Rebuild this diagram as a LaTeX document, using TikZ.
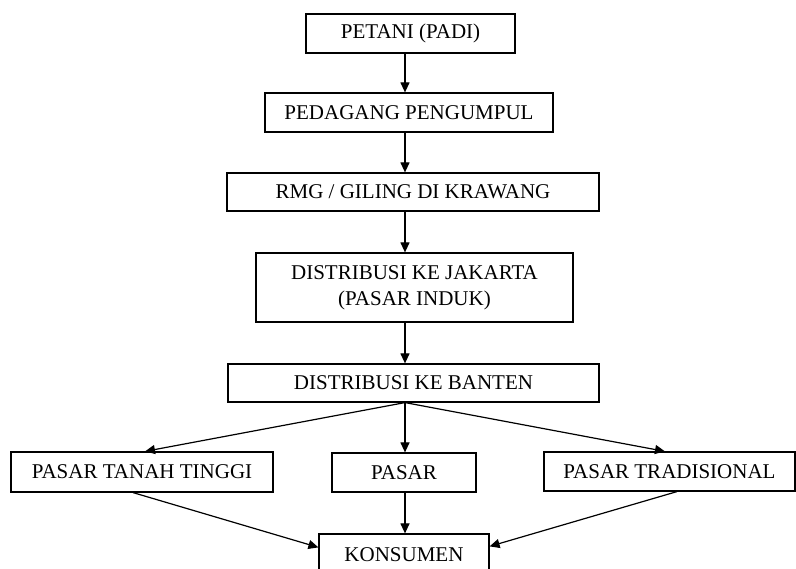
\documentclass[tikz,border=0pt]{standalone}
\usepackage{fontspec}
\setmainfont{Liberation Serif}
\usetikzlibrary{arrows.meta}
\begin{document}
\begin{tikzpicture}[x=1pt,y=1pt,
  box/.style={draw, line width=1.2pt, inner sep=0pt, align=center,
    font=\fontsize{21}{26}\selectfont},
  flow/.style={line width=1.2pt, -{Triangle[length=10pt,width=9pt]}}]
\useasboundingbox (0,0) rectangle (796,569);
\clip (0,0) rectangle (796,569);
\fill[white] (0,0) rectangle (796,569);

% chain of boxes
\node[box, minimum width=209pt, minimum height=39pt] (petani) at (410.5,535.5) {PETANI (PADI)};
\node[box, minimum width=288pt, minimum height=39pt] (pedagang) at (409,456.5) {PEDAGANG PENGUMPUL};
\node[box, minimum width=372pt, minimum height=38pt] (rmg) at (413,377) {RMG / GILING DI KRAWANG};
\node[box, minimum width=317pt, minimum height=69pt] (jakarta) at (414.5,281.5) {DISTRIBUSI KE JAKARTA\\(PASAR INDUK)};
\node[box, minimum width=371pt, minimum height=38pt] (banten) at (413.5,186) {DISTRIBUSI KE BANTEN};

% markets
\node[box, minimum width=262pt, minimum height=40pt] (ptt) at (142,97) {PASAR TANAH TINGGI};
\node[box, minimum width=144pt, minimum height=39pt] (pasar) at (404,96.5) {PASAR};
\node[box, minimum width=251pt, minimum height=39pt] (ptrad) at (669.5,97.5) {PASAR TRADISIONAL};

% consumer (runs past the lower edge)
\node[box, minimum width=170pt, minimum height=42pt] (konsumen) at (404,14) {KONSUMEN};

% vertical axis of the main flow
\coordinate (col) at (405,0);

\draw[flow] (petani.south -| col) -- (pedagang.north -| col);
\draw[flow] (pedagang.south -| col) -- (rmg.north -| col);
\draw[flow] (rmg.south -| col) -- (jakarta.north -| col);
\draw[flow] (jakarta.south -| col) -- (banten.north -| col);

\draw[flow] (banten.south -| col) -- ([xshift=3pt]ptt.north);
\draw[flow] (banten.south -| col) -- (pasar.north -| col);
\draw[flow] (banten.south -| col) -- ([xshift=-4.5pt]ptrad.north);

\draw[flow] ([xshift=-9pt]ptt.south) -- ([yshift=-14pt]konsumen.north west);
\draw[flow] (pasar.south -| col) -- (konsumen.north -| col);
\draw[flow] ([xshift=7.5pt]ptrad.south) -- ([yshift=-13pt]konsumen.north east);
\end{tikzpicture}
\end{document}
